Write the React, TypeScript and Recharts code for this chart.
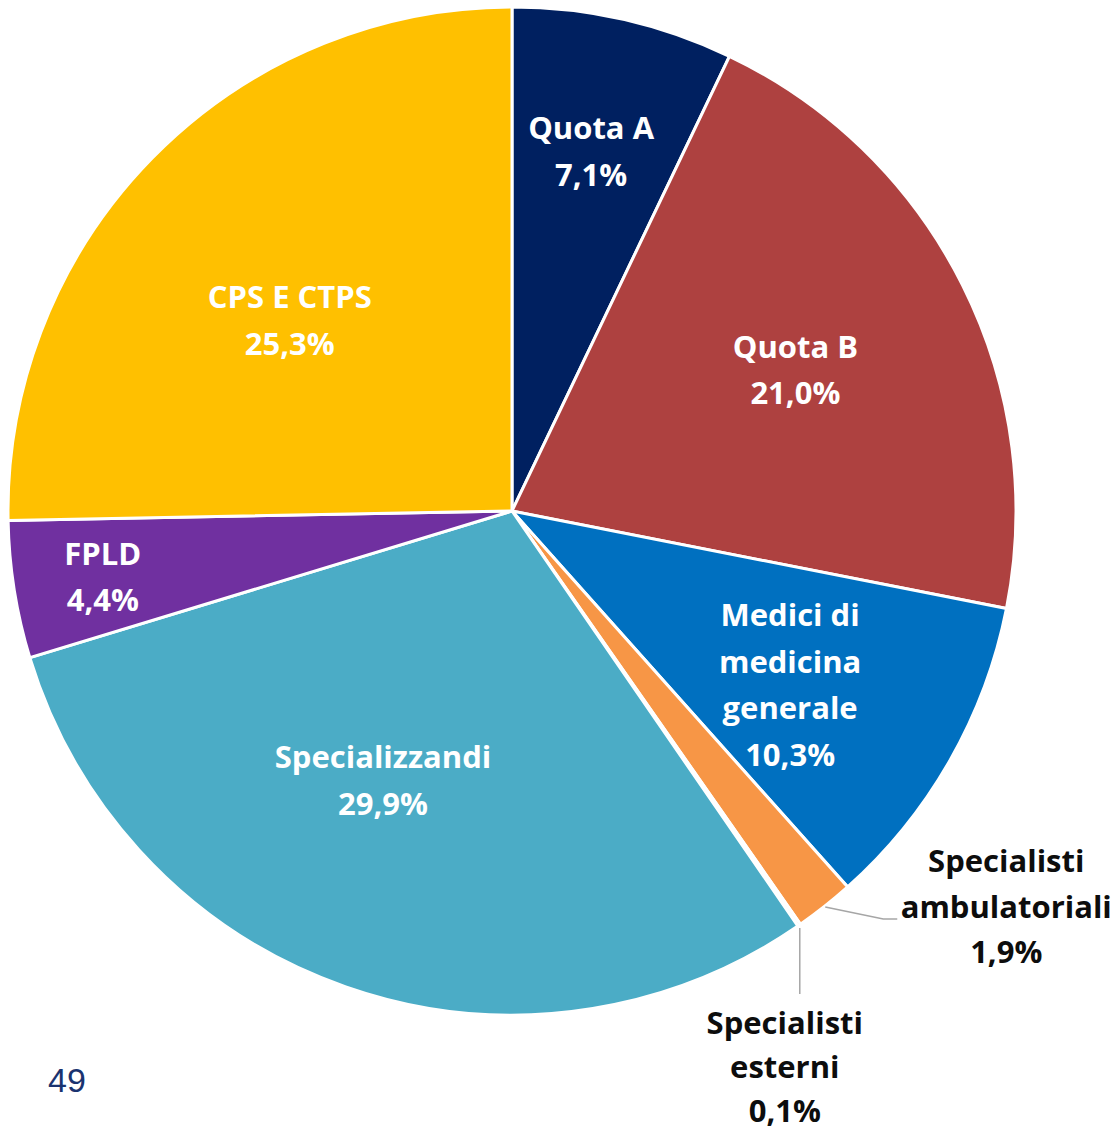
import React from 'react';
import { PieChart, Pie, Cell } from 'recharts';

const categories = [
  'Quota A',
  'Quota B',
  'Medici di medicina generale',
  'Specialisti ambulatoriali',
  'Specialisti esterni',
  'Specializzandi',
  'FPLD',
  'CPS E CTPS',
];
const values = [7.1, 21.0, 10.3, 1.9, 0.1, 29.9, 4.4, 25.3];
const valueLabels = ['7,1%', '21,0%', '10,3%', '1,9%', '0,1%', '29,9%', '4,4%', '25,3%'];
const labelLines = [
  ['Quota A'],
  ['Quota B'],
  ['Medici di', 'medicina', 'generale'],
  ['Specialisti', 'ambulatoriali'],
  ['Specialisti', 'esterni'],
  ['Specializzandi'],
  ['FPLD'],
  ['CPS E CTPS'],
];
const colors = ['#002060', '#AE4140', '#0070C0', '#F79646', '#E6E6E6', '#4BACC6', '#7030A0', '#FFC000'];

const data = categories.map((name, i) => ({ name, value: values[i] }));

const CX = 512;
const CY = 511;
const R = 504;
const RAD = Math.PI / 180;
const FONT = '"Open Sans", sans-serif';
const FS = 31;
const LH = 46.5;

// inside label layout: radial factor and angular shift (degrees, clockwise)
const insideLayout: Record<number, [number, number]> = {
  0: [0.732, -0.4],
  1: [0.629, 0],
  2: [0.65, 2.2],
  5: [0.591, 6.4],
  6: [0.822, 0],
  7: [0.582, -3.7],
};

const polar = (cx: number, cy: number, r: number, ma: number) => ({
  x: cx + r * Math.cos(-ma * RAD),
  y: cy + r * Math.sin(-ma * RAD),
});

const renderLabel = (props: any) => {
  const { cx, cy, midAngle, outerRadius, index } = props;
  const lines = [...labelLines[index], valueLabels[index]];
  const lay = insideLayout[index];
  if (lay) {
    const p = polar(cx, cy, outerRadius * lay[0], midAngle - lay[1]);
    const y0 = p.y - ((lines.length - 1) * LH) / 2;
    return (
      <text key={`l${index}`} x={p.x} y={y0} textAnchor="middle" dominantBaseline="central"
        fill="#FFFFFF" fontFamily={FONT} fontWeight={700} fontSize={FS}>
        {lines.map((t, k) => (
          <tspan key={k} x={p.x} y={y0 + k * LH}>{t}</tspan>
        ))}
      </text>
    );
  }
  // outside labels with leader lines
  const s = polar(cx, cy, outerRadius + 1, midAngle);
  let path = '';
  let tx = 0;
  let ty = 0;
  let lh = 46;
  if (index === 3) {
    path = `M${s.x},${s.y} L${s.x + 58},${s.y + 12} L${s.x + 72},${s.y + 12}`;
    tx = s.x + 181;
    ty = s.y - 47;
    lh = 45.5;
  } else {
    path = `M${s.x},${s.y + 2} L${s.x},${s.y + 68}`;
    tx = s.x - 15;
    ty = s.y + 96;
    lh = 44;
  }
  return (
    <g key={`l${index}`}>
      <path d={path} stroke="#A6A6A6" strokeWidth={1.5} fill="none" />
      <text x={tx} y={ty} textAnchor="middle" dominantBaseline="central"
        fill="#0D0D0D" fontFamily={FONT} fontWeight={700} fontSize={FS}>
        {lines.map((t, k) => (
          <tspan key={k} x={tx} y={ty + k * lh}>{t}</tspan>
        ))}
      </text>
    </g>
  );
};

export default function App() {
  return (
    <div style={{ position: 'absolute', left: 0, top: 0, width: 1117, height: 1130, background: '#fff' }}>
      <PieChart width={1117} height={1130} margin={{ top: 0, right: 0, bottom: 0, left: 0 }}>
        <Pie
          data={data}
          dataKey="value"
          nameKey="name"
          cx={CX}
          cy={CY}
          outerRadius={R}
          startAngle={90}
          endAngle={-270}
          stroke="#FFFFFF"
          strokeWidth={3}
          label={renderLabel}
          labelLine={false}
          isAnimationActive={false}
        >
          {data.map((d, i) => (
            <Cell key={d.name} fill={colors[i]} />
          ))}
        </Pie>
      </PieChart>
      <div style={{ position: 'absolute', left: 48, top: 1063, fontFamily: '"Liberation Sans", Arial, sans-serif', fontSize: 34, lineHeight: '34px', color: '#1A3370' }}>
        49
      </div>
    </div>
  );
}
